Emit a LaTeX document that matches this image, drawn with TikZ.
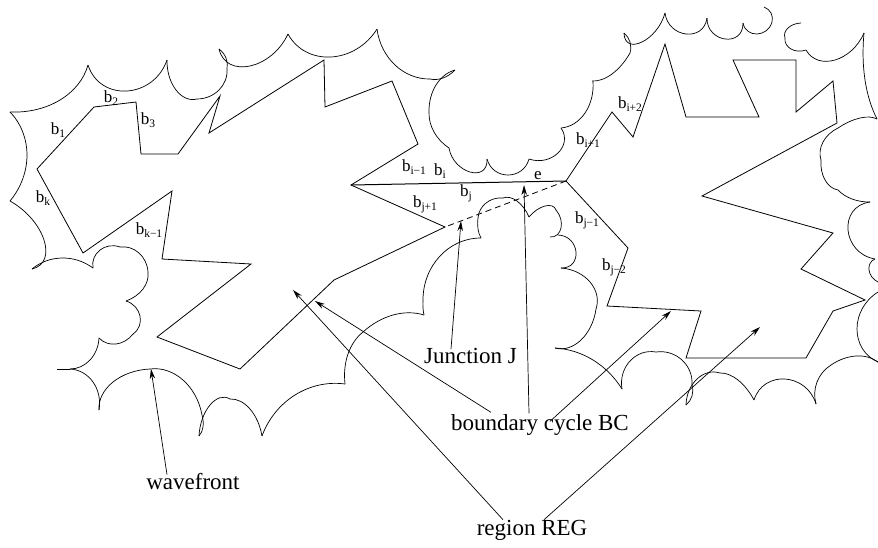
\documentclass[tikz,border=0pt]{standalone}
\usepackage{fontspec}
\setmainfont{Liberation Serif}
\usetikzlibrary{arrows.meta}
\newcommand\bsub[1]{b\raisebox{-0.35ex}{\fontsize{11.5}{12}\selectfont #1}}
\tikzset{
  edge/.style={draw=black,line width=0.8pt,line join=miter},
  wave/.style={draw=black,line width=0.7pt},
  arr/.style={draw=black,line width=0.7pt,-{Stealth[length=10pt,width=5.5pt]}},
  lab/.style={font=\fontsize{23}{25}\selectfont,inner sep=0pt},
  small/.style={font=\fontsize{17}{18}\selectfont,inner sep=0pt}
}
\begin{document}
\begin{tikzpicture}[x=1pt,y=-1pt]
\useasboundingbox (0,0) rectangle (878,547);
% shared corners of the boundary cycle
\coordinate (P) at (351,185);
\coordinate (Q) at (566,181);
\coordinate (R) at (445,227);
% boundary cycle, left part
\draw[edge] (37,169) -- (94,107) -- (136,102) -- (141,154) -- (178,154) -- (220,96) -- (209,133) -- (324,60) -- (325,107) -- (392,81) -- (418,144) -- (P) -- (R) -- (334,280) -- (240,369) -- (157,337) -- (251,264) -- (162,259) -- (172,191) -- (83,253) -- cycle;
% boundary cycle, right part
\draw[edge,line width=1pt] (P) -- (Q);
\draw[edge] (Q) -- (612,112) -- (633,137) -- (665,44) -- (686,117) -- (759,117) -- (733,60) -- (796,60) -- (796,112) -- (833,81) -- (837,123) -- (702,196) -- (833,233) -- (801,269) -- (865,300) -- (833,311) -- (806,358) -- (686,358) -- (701,311) -- (607,306) -- (628,248) -- cycle;
\draw[edge,dashed,dash pattern=on 6pt off 4pt] (Q) -- (R);
% wavefront arcs: start, mid point on the arc, end
\foreach \ax/\ay/\mx/\my/\bx/\by in {
10/112/60/100/88/65, 88/65/127/91/167/60,
167/60/176/90/197/99, 197/99/219/90/227/69, 227/69/226/58/219/49,
219/49/250/66/288/34, 288/34/331/57/377/29,
377/29/395/65/430/79, 430/79/443/78/455/70,
455/70/436/85/429/112, 429/112/434/132/449/148,
449/148/470/172/487/159, 487/159/508/175/529/159,
529/159/558/153/561/128, 561/128/585/113/593/81,
592/81/612/74/630/53, 630/53/630/42/624/33,
624/33/642/42/665/13, 665/13/686/34/707/18, 707/18/725/39/743/23,
743/23/757/34/772/22, 772/22/771/13/764/7,
801/23/788/28/785/38, 785/38/791/49/806/50, 806/50/835/60/864/33,
864/33/865/80/877/119,
877/119/860/118/838/128, 838/128/823/142/821/160, 821/160/825/180/838/190, 838/190/852/199/870/202,
870/202/848/230/875/259, 875/259/869/270/878/282,
878/292/857/329/878/362,
878/362/856/356/831/365, 831/365/817/382/816/404,
816/404/785/379/754/400,
754/400/738/380/720/373, 720/373/697/379/686/405,
622/389/630/361/656/352, 656/352/682/360/692/385, 692/385/692/396/686/405,
622/389/593/360/555/348,
555/348/581/340/596/309, 596/309/590/282/561/268,
561/268/576/252/558/235,
550/237/561/228/556/210, 556/210/545/206/529/217,
529/217/517/201/503/198, 503/198/486/203/478/218, 478/218/478/229/481/238,
481/238/440/256/423/300, 423/300/423/308/424/315,
424/315/393/315/363/332, 363/332/348/354/345/384,
345/384/295/395/262/436,
262/436/250/409/230/399, 230/399/210/405/199/436,
150/369/183/380/202/415, 202/415/203/427/199/436,
99/410/113/382/150/369,
70/369/93/382/99/410,
70/369/90/360/99/338,
99/338/116/344/133/334, 133/334/140/316/126/301,
126/301/143/289/148/272,
148/272/139/253/120/247, 120/247/100/250/93/268,
93/268/62/258/32/269,
32/269/44/240/10/201,
10/201/27/155/10/112}{
  \pgfmathsetmacro\dx{4/3*(\mx-(\ax+\bx)/2)}
  \pgfmathsetmacro\dy{4/3*(\my-(\ay+\by)/2)}
  % t = sagitta / half chord; handles slide along the chord so the piece is a circular arc
  \pgfmathsetmacro\tt{veclen(\mx-(\ax+\bx)/2,\my-(\ay+\by)/2)/(veclen(\bx-\ax,\by-\ay)/2)}
  \pgfmathsetmacro\kk{(1-\tt*\tt)/3}
  \pgfmathsetmacro\ex{\kk*(\bx-\ax)}
  \pgfmathsetmacro\ey{\kk*(\by-\ay)}
  \draw[wave] (\ax,\ay) .. controls (\ax+\ex+\dx,\ay+\ey+\dy) and (\bx-\ex+\dx,\by-\ey+\dy) .. (\bx,\by);
}
\coordinate (tail) at (57,369);
\coordinate (tailend) at (70,369);
\draw[wave] (tail) -- (tailend);
% small labels
\node[small] (b1) at (58,130) {\bsub{1}};
\node[small] (b2) at (111,98) {\bsub{2}};
\node[small] (b3) at (148,120) {\bsub{3}};
\node[small] (bk) at (43,198) {\bsub{k}};
\node[small] (bk1) at (149,230) {\bsub{k−1}};
\node[small] (bi1) at (414,167) {\bsub{i−1}};
\node[small] (bi) at (440,171) {\bsub{i}};
\node[small] (bj1) at (425,204) {\bsub{j+1}};
\node[small] (bj) at (466,193) {\bsub{j}};
\node[small] (e) at (538,176) {e};
\node[small] (bip1) at (588,140) {\bsub{i+1}};
\node[small] (bip2) at (630,104) {\bsub{i+2}};
\node[small] (bjm1) at (587,220) {\bsub{j−1}};
\node[small] (bjm2) at (614,267) {\bsub{j−2}};
% big labels
\node[lab] (wf) at (193,482) {wavefront};
\node[lab] (jn) at (470.5,356) {Junction J};
\node[lab] (bc) at (540,425) {boundary cycle BC};
\node[lab] (rg) at (532,530) {region REG};
% arrow tips
\coordinate (twf) at (151,369);
\coordinate (tjn) at (461,221);
\coordinate (tbc1) at (315,301);
\coordinate (tbc2) at (524,185);
\coordinate (tbc3) at (671,311);
\coordinate (trg1) at (293,290);
\coordinate (trg2) at (760,327);
\draw[arr] ([xshift=-26pt,yshift=-1pt]wf.north) -- (twf);
\draw[arr] ([xshift=-19.5pt,yshift=-1pt]jn.north) -- (tjn);
\draw[arr] ([xshift=-49pt,yshift=2pt]bc.north) -- (tbc1);
\draw[arr] ([xshift=-11pt,yshift=1pt]bc.north) -- (tbc2);
\draw[arr] ([xshift=10pt,yshift=-7pt]bc.north) -- (tbc3);
\draw[arr] ([xshift=-29pt,yshift=0pt]rg.north) -- (trg1);
\draw[arr] ([xshift=12pt,yshift=0pt]rg.north) -- (trg2);
\end{tikzpicture}
\end{document}
